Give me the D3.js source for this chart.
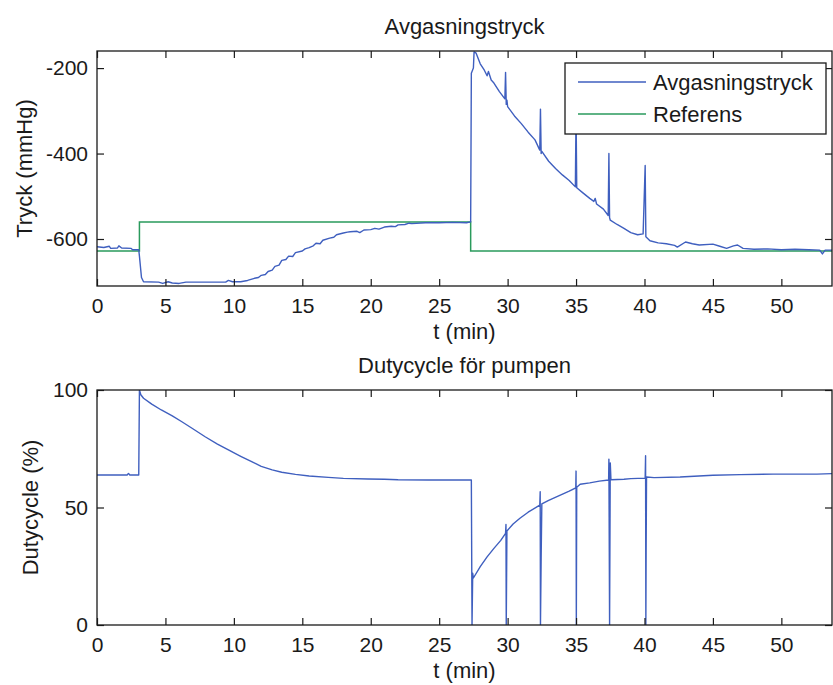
<!DOCTYPE html>
<html>
<head>
<meta charset="utf-8">
<script src="https://cdn.jsdelivr.net/npm/d3@7"></script>
<style>
  html, body { margin: 0; padding: 0; background: #fff; }
  svg { display: block; }
  text { font-family: "Liberation Sans", Arial, sans-serif; fill: #1a1a1a; }
</style>
</head>
<body>
<svg id="chart" width="833" height="685"></svg>
<script>
// Measured degassing pressure (t in min, mmHg)
const avgasningstryck = [
  [0, -618], [0.5, -620], [0.9, -617], [1.0, -622], [1.5, -621], [1.6, -616], [1.8, -621],
  [2.5, -622], [2.6, -625], [3.05, -625], [3.1, -640], [3.25, -690], [3.4, -700],
  [4.5, -701], [4.8, -704], [5.2, -700], [5.5, -703], [6, -704], [6.5, -701], [9.4, -701],
  [9.6, -697], [9.9, -700], [10.5, -700], [11.0, -697], [11.5, -692], [11.8, -690],
  [12, -685], [12.3, -683], [12.5, -676], [12.8, -673], [13, -664], [13.3, -661], [13.5, -650],
  [13.8, -648], [14, -640], [14.3, -641], [14.5, -632], [15, -628], [15.2, -623], [15.5, -620],
  [15.8, -616], [16, -610], [16.3, -611], [16.5, -603], [17, -598], [17.3, -596], [17.5, -590],
  [18, -586], [18.3, -584], [18.5, -583], [19, -582], [19.2, -585], [19.5, -579], [20, -578],
  [20.3, -575], [20.6, -577], [21, -572], [21.5, -570], [21.8, -571], [22, -567], [22.5, -566],
  [22.8, -563], [23, -564], [24, -562], [25, -562], [26, -561], [27, -562], [27.3, -560],
  [27.35, -212], [27.5, -200], [27.55, -162], [27.7, -165], [28, -190], [28.3, -205],
  [28.5, -218], [28.6, -208], [28.8, -228], [29, -235], [29.4, -255], [29.8, -272],
  [29.85, -210], [29.9, -285], [29.95, -275], [30, -290], [30.5, -312], [31, -330],
  [31.5, -350], [32, -368], [32.35, -392], [32.4, -296], [32.45, -400], [32.5, -395],
  [33, -418], [33.5, -435], [34, -450], [34.5, -463], [34.95, -478], [35.0, -300],
  [35.05, -480], [35.5, -492], [36, -505], [36.3, -512], [36.4, -505], [36.5, -518], [37, -530],
  [37.35, -545], [37.4, -400], [37.45, -550], [37.5, -556], [38, -566], [38.5, -575], [39, -585],
  [39.5, -590], [39.9, -588], [40.05, -428], [40.1, -595], [40.4, -604], [41, -609],
  [41.6, -611], [42.2, -615], [42.4, -619], [43, -607], [43.5, -611], [44, -614], [45, -612],
  [45.5, -617], [46, -622], [46.5, -616], [46.8, -614], [47.2, -622], [48, -624], [49, -623],
  [50, -625], [51, -624], [52, -625], [52.8, -626], [53, -635], [53.2, -626], [53.7, -626]
];

// Pressure set point, held until the next change (t in min, mmHg)
const referens = [
  [0, -628], [3.1, -560], [27.3, -628], [53.7, -628]
];

// Pump duty cycle (t in min, %)
const dutycycle = [
  [0, 63.8], [2.2, 63.8], [2.3, 64.5], [2.4, 63.8], [3.05, 63.8], [3.1, 100], [3.2, 98],
  [3.4, 96.5], [4, 94], [4.7, 91.5], [5.5, 89], [6.2, 86.5], [7, 83.5], [7.9, 80.1],
  [8.8, 77], [9.6, 74.5], [10.5, 71.8], [11.3, 69.5], [12, 67.5], [12.8, 66], [13.5, 65],
  [14.5, 64.1], [15.5, 63.4], [16.9, 62.8], [18, 62.4], [19.8, 62.1], [21, 62], [22, 61.8],
  [24.2, 61.7], [27.35, 61.7],
  [27.4, 0], [27.45, 22], [27.5, 20], [28, 24.8], [28.5, 29], [29, 32.6], [29.5, 36],
  [29.85, 39], [29.88, 42.8], [29.9, 0], [29.95, 40], [30.4, 43], [30.9, 45.4], [31.5, 48],
  [32.35, 51], [32.38, 56.7], [32.4, 0], [32.45, 28.5], [32.5, 51.5], [33, 53], [33.85, 55.3],
  [34.5, 57], [34.98, 58.4], [35.0, 65.5], [35.02, 0], [35.05, 58.6], [35.3, 59.9], [36, 60.5],
  [36.7, 61.2], [37.38, 61.7], [37.4, 70.6], [37.45, 0], [37.5, 69], [37.55, 61.8], [38.5, 62],
  [39, 62.3], [40.05, 62.5], [40.08, 72], [40.1, 0], [40.12, 31], [40.15, 63], [40.7, 62.7],
  [42.6, 63], [45, 63.7], [47, 64], [49.4, 64.2], [52.6, 64.2], [53.7, 64.4]
];

const xTicks = [0, 5, 10, 15, 20, 25, 30, 35, 40, 45, 50];
const pressureTicks = [-600, -400, -200];
const dutyTicks = [0, 50, 100];
const tDomain = [0, 53.7];
const pressureDomain = [-710, -160];
const dutyDomain = [0, 100];

const BLUE = "#3f5fbf";
const GREEN = "#2a9a5c";
const TICK_FONT = 21;
const LABEL_FONT = 22;

const svg = d3.select("#chart");
const left = 97, right = 832;

function panel(opts) {
  const { top, bottom, yDomain, yTicks, title, yLabel, id } = opts;
  const x = d3.scaleLinear().domain(tDomain).range([left, right]);
  const y = d3.scaleLinear().domain(yDomain).range([bottom, top]);
  const g = svg.append("g");

  g.append("clipPath").attr("id", id)
    .append("rect").attr("x", left).attr("y", top)
    .attr("width", right - left).attr("height", bottom - top);

  const plot = g.append("g").attr("clip-path", `url(#${id})`);

  // Axes with inward ticks on all four sides; plain hyphen for negatives
  const fmt = d => String(d);
  const axB = d3.axisBottom(x).tickValues(xTicks).tickFormat(fmt).tickSizeInner(-7).tickSizeOuter(0).tickPadding(12);
  const axT = d3.axisTop(x).tickValues(xTicks).tickSizeInner(-7).tickSizeOuter(0).tickFormat("");
  const axL = d3.axisLeft(y).tickValues(yTicks).tickFormat(fmt).tickSizeInner(-7).tickSizeOuter(0).tickPadding(9);
  const axR = d3.axisRight(y).tickValues(yTicks).tickSizeInner(-7).tickSizeOuter(0).tickFormat("");

  const style = sel => {
    sel.select(".domain").remove();
    sel.selectAll(".tick line").attr("stroke", "#1a1a1a").attr("stroke-width", 1.2);
    sel.selectAll(".tick text").attr("font-size", TICK_FONT)
      .attr("font-family", '"Liberation Sans", Arial, sans-serif').attr("fill", "#1a1a1a");
  };
  g.append("g").attr("transform", `translate(0,${bottom})`).call(axB).call(style);
  g.append("g").attr("transform", `translate(0,${top})`).call(axT).call(style);
  g.append("g").attr("transform", `translate(${left},0)`).call(axL).call(style);
  g.append("g").attr("transform", `translate(${right},0)`).call(axR).call(style);

  g.append("rect").attr("x", left).attr("y", top)
    .attr("width", right - left).attr("height", bottom - top)
    .attr("fill", "none").attr("stroke", "#1a1a1a").attr("stroke-width", 1.3);

  g.append("text").attr("x", (left + right) / 2).attr("y", top - 17)
    .attr("text-anchor", "middle").attr("font-size", LABEL_FONT).text(title);
  g.append("text").attr("x", (left + right) / 2).attr("y", bottom + 53)
    .attr("text-anchor", "middle").attr("font-size", LABEL_FONT).text("t (min)");
  g.append("text")
    .attr("transform", `translate(${opts.yLabelX},${(top + bottom) / 2}) rotate(-90)`)
    .attr("text-anchor", "middle").attr("font-size", LABEL_FONT).text(yLabel);

  return { x, y, plot, g };
}

// Upper panel: pressure and set point
const p1 = panel({ id: "clipTop", top: 51, bottom: 286, yDomain: pressureDomain, yTicks: pressureTicks,
  title: "Avgasningstryck", yLabel: "Tryck (mmHg)", yLabelX: 32 });

const line1 = d3.line().x(d => p1.x(d[0])).y(d => p1.y(d[1]));
const step1 = d3.line().curve(d3.curveStepAfter).x(d => p1.x(d[0])).y(d => p1.y(d[1]));

p1.plot.append("path").datum(referens).attr("d", step1)
  .attr("fill", "none").attr("stroke", GREEN).attr("stroke-width", 1.5);
p1.plot.append("path").datum(avgasningstryck).attr("d", line1)
  .attr("fill", "none").attr("stroke", BLUE).attr("stroke-width", 1.4).attr("stroke-linejoin", "round");

// Legend
const lg = p1.g.append("g");
lg.append("rect").attr("x", 565).attr("y", 63).attr("width", 261).attr("height", 71)
  .attr("fill", "#fff").attr("stroke", "#1a1a1a").attr("stroke-width", 1.3);
[["Avgasningstryck", BLUE, 82], ["Referens", GREEN, 114]].forEach(([name, col, yy]) => {
  lg.append("line").attr("x1", 578).attr("x2", 646).attr("y1", yy).attr("y2", yy)
    .attr("stroke", col).attr("stroke-width", 1.5);
  lg.append("text").attr("x", 653).attr("y", yy + 8).attr("font-size", LABEL_FONT).text(name);
});

// Lower panel: pump duty cycle
const p2 = panel({ id: "clipBottom", top: 390, bottom: 625, yDomain: dutyDomain, yTicks: dutyTicks,
  title: "Dutycycle för pumpen", yLabel: "Dutycycle (%)", yLabelX: 38 });

const line2 = d3.line().x(d => p2.x(d[0])).y(d => p2.y(d[1]));
p2.plot.append("path").datum(dutycycle).attr("d", line2)
  .attr("fill", "none").attr("stroke", BLUE).attr("stroke-width", 1.4).attr("stroke-linejoin", "round");
</script>
</body>
</html>
